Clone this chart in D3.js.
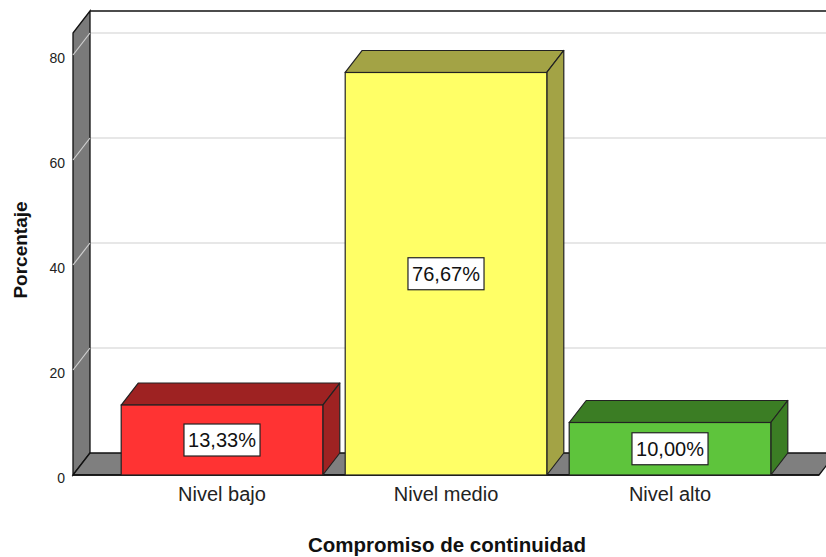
<!DOCTYPE html>
<html>
<head>
<meta charset="utf-8">
<script src="https://cdn.jsdelivr.net/npm/d3@7"></script>
<style>
  body { margin: 0; background: #fff; }
  svg { display: block; font-family: "Liberation Sans", Arial, sans-serif; }
</style>
</head>
<body>
<div id="chart"></div>
<script>
// Data
const categories = ["Nivel bajo", "Nivel medio", "Nivel alto"];
const values = [13.33, 76.67, 10.00];
const labels = ["13,33%", "76,67%", "10,00%"];
const yTicks = [0, 20, 40, 60, 80];
const frontColors = ["#ff3333", "#ffff66", "#5ec43c"];
const darkColors = ["#9e2222", "#a3a345", "#3b7d24"];

const width = 826, height = 557;
const depthX = 17, depthY = 22;   // 3D offset of the back wall

const svg = d3.select("#chart")
  .append("svg")
  .attr("width", width)
  .attr("height", height);

// Scales (front plane)
const yScale = d3.scaleLinear()
  .domain([0, 80])
  .range([475, 55]);

const xScale = d3.scaleBand()
  .domain(categories)
  .range([110, 782])
  .paddingInner(0.1)
  .paddingOuter(0.05);

const x0 = 73, x1 = 819;   // front plane extent
const yBase = yScale(0);
const yTop = 11;           // top edge of back wall

// Back wall gridlines
svg.append("g")
  .selectAll("line")
  .data(yTicks.slice(1))
  .enter()
  .append("line")
  .attr("x1", x0 + depthX)
  .attr("x2", width + 20)
  .attr("y1", d => yScale(d) - depthY)
  .attr("y2", d => yScale(d) - depthY)
  .attr("stroke", "#d0d0d0")
  .attr("stroke-width", 1.2);

// Left wall
svg.append("path")
  .attr("d", `M${x0},${yBase} L${x0},${yTop + depthY} L${x0 + depthX},${yTop} L${x0 + depthX},${yBase - depthY} Z`)
  .attr("fill", "#7a7a7a")
  .attr("stroke", "#111")
  .attr("stroke-width", 1.3);

// Floor
svg.append("path")
  .attr("d", `M${x0},${yBase} L${x0 + depthX},${yBase - depthY} L${x1 + depthX},${yBase - depthY} L${x1},${yBase} Z`)
  .attr("fill", "#7f7f7f")
  .attr("stroke", "#111")
  .attr("stroke-width", 1.3);

// Gridline diagonals over left wall
svg.append("g")
  .selectAll("line")
  .data(yTicks.slice(1))
  .enter()
  .append("line")
  .attr("x1", x0)
  .attr("x2", x0 + depthX)
  .attr("y1", d => yScale(d))
  .attr("y2", d => yScale(d) - depthY)
  .attr("stroke", "#d0d0d0")
  .attr("stroke-width", 1.2);

// Top border of back wall
svg.append("line")
  .attr("x1", x0 + depthX)
  .attr("x2", width + 20)
  .attr("y1", yTop)
  .attr("y2", yTop)
  .attr("stroke", "#111")
  .attr("stroke-width", 1.5);

// Front base line
svg.append("line")
  .attr("x1", x0)
  .attr("x2", x1)
  .attr("y1", yBase)
  .attr("y2", yBase)
  .attr("stroke", "#111")
  .attr("stroke-width", 1.5);

// Y axis labels
const yAxis = svg.append("g")
  .attr("transform", `translate(${x0 - 6},3)`)
  .call(d3.axisLeft(yScale).tickValues(yTicks).tickSize(0).tickPadding(2));
yAxis.select(".domain").remove();
yAxis.selectAll("text")
  .attr("font-size", 14)
  .attr("font-family", "Liberation Sans, Arial, sans-serif")
  .attr("fill", "#222");

// Bars
const bars = svg.selectAll(".bar")
  .data(categories.map((c, i) => ({ cat: c, value: values[i], label: labels[i], i: i })))
  .enter()
  .append("g")
  .attr("class", "bar");

bars.append("path")   // top face
  .attr("d", d => {
    const bx = xScale(d.cat), bw = xScale.bandwidth(), by = yScale(d.value);
    return `M${bx},${by} L${bx + depthX},${by - depthY} L${bx + bw + depthX},${by - depthY} L${bx + bw},${by} Z`;
  })
  .attr("fill", d => darkColors[d.i])
  .attr("stroke", "#222")
  .attr("stroke-width", 1.2)
  .attr("stroke-linejoin", "round");

bars.append("path")   // side face
  .attr("d", d => {
    const bx = xScale(d.cat) + xScale.bandwidth(), by = yScale(d.value);
    return `M${bx},${by} L${bx + depthX},${by - depthY} L${bx + depthX},${yBase - depthY} L${bx},${yBase} Z`;
  })
  .attr("fill", d => darkColors[d.i])
  .attr("stroke", "#222")
  .attr("stroke-width", 1.2)
  .attr("stroke-linejoin", "round");

bars.append("rect")   // front face
  .attr("x", d => xScale(d.cat))
  .attr("y", d => yScale(d.value))
  .attr("width", xScale.bandwidth())
  .attr("height", d => yBase - yScale(d.value))
  .attr("fill", d => frontColors[d.i])
  .attr("stroke", "#222")
  .attr("stroke-width", 1.2);

// Value labels
bars.each(function(d) {
  const g = d3.select(this);
  const cx = xScale(d.cat) + xScale.bandwidth() / 2;
  const cy = (yScale(d.value) + yBase) / 2;
  const txt = g.append("text")
    .attr("x", cx)
    .attr("y", cy)
    .attr("text-anchor", "middle")
    .attr("dominant-baseline", "central")
    .attr("font-size", 20)
    .attr("fill", "#111")
    .text(d.label);
  const bb = txt.node().getBBox();
  g.insert("rect", "text")
    .attr("x", cx - bb.width / 2 - 4)
    .attr("y", cy - 16)
    .attr("width", bb.width + 8)
    .attr("height", 32)
    .attr("fill", "#fff")
    .attr("stroke", "#222")
    .attr("stroke-width", 1.2);
});

// Category labels
const xAxis = svg.append("g")
  .attr("transform", `translate(0,${yBase})`)
  .call(d3.axisBottom(xScale).tickSize(0).tickPadding(12));
xAxis.select(".domain").remove();
xAxis.selectAll("text")
  .attr("font-size", 20)
  .attr("font-family", "Liberation Sans, Arial, sans-serif")
  .attr("fill", "#222");

// Axis titles
svg.append("text")
  .attr("x", 447)
  .attr("y", 552)
  .attr("text-anchor", "middle")
  .attr("font-size", 20.5)
  .attr("font-weight", "bold")
  .attr("fill", "#111")
  .text("Compromiso de continuidad");

svg.append("text")
  .attr("transform", "translate(27,250) rotate(-90)")
  .attr("text-anchor", "middle")
  .attr("font-size", 19)
  .attr("font-weight", "bold")
  .attr("fill", "#111")
  .text("Porcentaje");
</script>
</body>
</html>
